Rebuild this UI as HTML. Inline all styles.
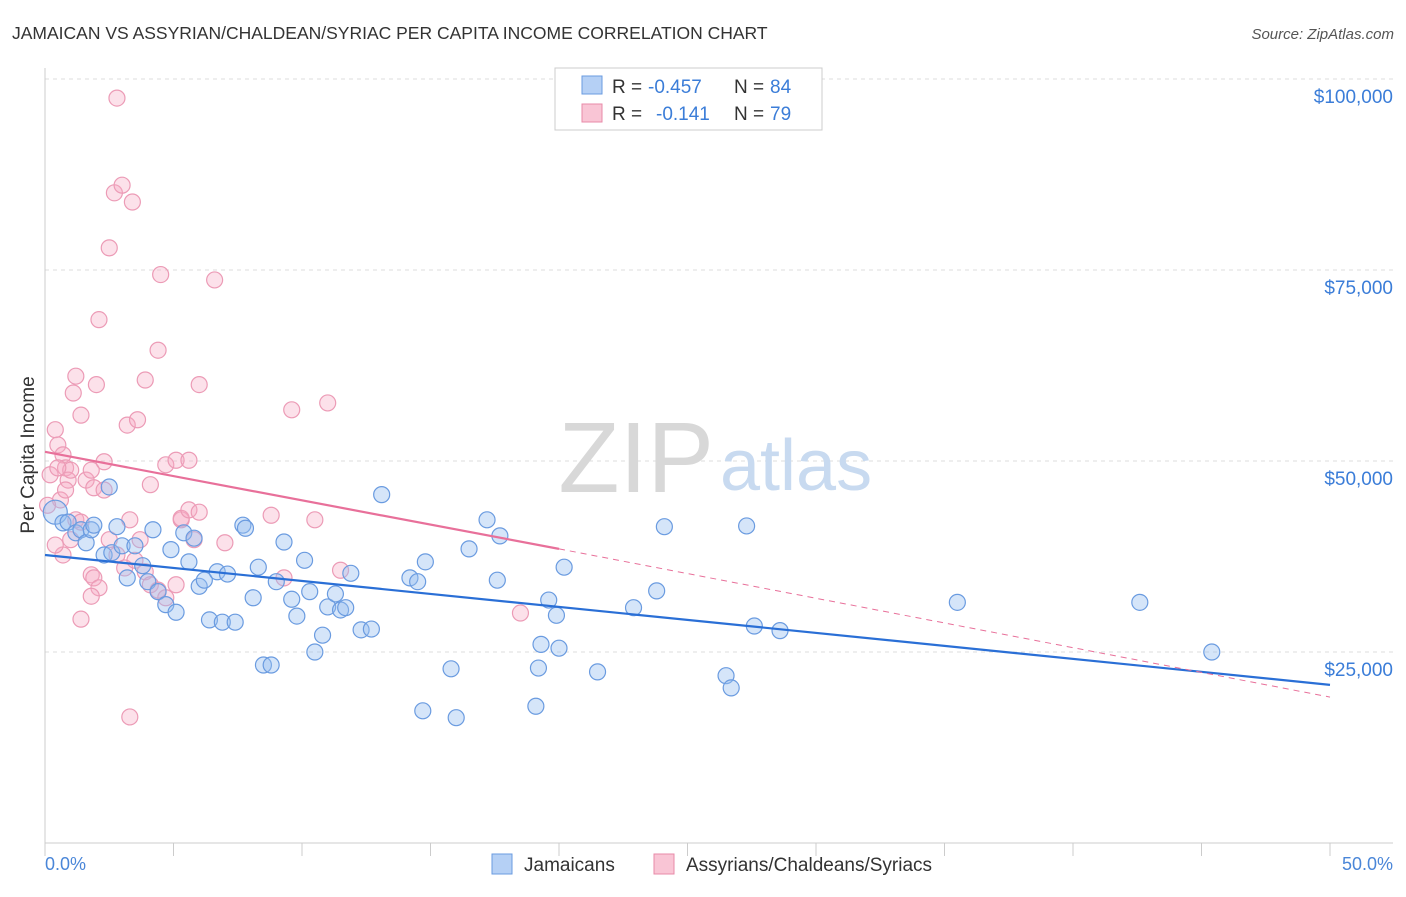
<!DOCTYPE html>
<html><head><meta charset="utf-8"><style>
body{margin:0;background:#fff;font-family:"Liberation Sans",sans-serif}
svg text{font-family:"Liberation Sans",sans-serif}
</style></head><body>
<svg id="chart" width="1406" height="892" viewBox="0 0 1406 892" xmlns="http://www.w3.org/2000/svg">
<text x="12" y="39" font-size="17.5" fill="#333">JAMAICAN VS ASSYRIAN/CHALDEAN/SYRIAC PER CAPITA INCOME CORRELATION CHART</text>
<text x="1394" y="39" font-size="15" fill="#555" font-style="italic" text-anchor="end">Source: ZipAtlas.com</text>
<g id="grid"></g>
<text x="714" y="492" font-size="100" fill="#d8d8d8" text-anchor="end" font-family="Liberation Serif">ZIP</text>
<text x="720" y="490" font-size="72" fill="#c8daf0">atlas</text>
<g id="pts"></g>
<g id="lines"></g>
<text x="34" y="455" font-size="19" fill="#333" text-anchor="middle" transform="rotate(-90 34 455)">Per Capita Income</text>
<text x="45" y="870" font-size="18" fill="#4a86d8">0.0%</text>
<text x="1393" y="870" font-size="18" fill="#4a86d8" text-anchor="end">50.0%</text>
<g>
<rect x="555" y="68" width="267" height="62" fill="#fff" stroke="#ccc"/>
<rect x="582" y="76" width="20" height="18" fill="#b5d0f5" stroke="#6a9be0"/>
<rect x="582" y="104" width="20" height="18" fill="#f9c5d5" stroke="#e88aa8"/>
<text x="612" y="93" font-size="19" fill="#333">R =</text>
<text x="648" y="93" font-size="19" fill="#3b7dd8">-0.457</text>
<text x="734" y="93" font-size="19" fill="#333">N =</text>
<text x="770" y="93" font-size="19" fill="#3b7dd8">84</text>
<text x="612" y="120" font-size="19" fill="#333">R =</text>
<text x="656" y="120" font-size="19" fill="#3b7dd8">-0.141</text>
<text x="734" y="120" font-size="19" fill="#333">N =</text>
<text x="770" y="120" font-size="19" fill="#3b7dd8">79</text>
</g>
<g>
<rect x="492" y="854" width="20" height="20" fill="#b5d0f5" stroke="#6a9be0"/>
<text x="524" y="871" font-size="19" fill="#333">Jamaicans</text>
<rect x="654" y="854" width="20" height="20" fill="#f9c5d5" stroke="#e88aa8"/>
<text x="686" y="871" font-size="19" fill="#333">Assyrians/Chaldeans/Syriacs</text>
</g>
</svg>
<script>
const yTicks=[25000,50000,75000,100000];
const yTickLabels=["$25,000","$50,000","$75,000","$100,000"];
const xTicks=[0,5,10,15,20,25,30,35,40,45,50];
const blueX=[0.4,0.7,0.9,1.2,1.4,1.6,1.8,1.9,2.3,2.5,2.6,2.8,3.0,3.2,3.5,3.8,4.0,4.2,4.4,4.7,4.9,5.1,5.4,5.6,5.8,6.0,6.2,6.4,6.7,6.9,7.1,7.4,7.7,7.8,8.1,8.3,8.5,8.8,9.0,9.3,9.6,9.8,10.1,10.3,10.5,10.8,11.0,11.3,11.5,11.7,11.9,12.3,12.7,13.1,14.2,14.5,14.8,14.7,15.8,16.0,16.5,17.2,17.6,17.7,19.1,19.2,19.3,19.6,19.9,20.0,20.2,21.5,22.9,23.8,24.1,26.5,26.7,27.3,27.6,28.6,35.5,42.6,45.4];
const blueY=[43300,41900,42000,40600,41000,39300,41000,41600,37700,46600,38000,41400,38900,34700,38900,36300,34200,41000,32900,31200,38400,30200,40600,36800,39900,33600,34400,29200,35500,28900,35200,28900,41600,41200,32100,36100,23300,23300,34200,39400,31900,29700,37000,32900,25000,27200,30900,32600,30500,30800,35300,27900,28000,45600,34700,34200,36800,17300,22800,16400,38500,42300,34400,40200,17900,22900,26000,31800,29800,25500,36100,22400,30800,33000,41400,21900,20300,41500,28400,27800,31500,31500,25000];
const pinkX=[0.4,0.5,0.7,0.8,0.9,1.1,1.2,1.0,1.4,1.6,1.8,1.9,2.1,2.0,2.3,2.5,2.7,2.8,3.0,3.2,3.4,3.6,3.9,4.1,4.4,4.5,4.7,5.1,5.3,5.6,6.0,6.6,0.7,1.0,1.2,1.4,1.8,1.9,2.1,2.3,2.5,2.8,3.1,3.3,3.5,3.7,3.9,4.1,4.4,4.7,5.1,5.3,5.6,5.8,6.0,7.0,8.8,9.3,9.6,10.5,11.0,11.5,18.5,3.3,1.4,1.8,0.4,0.6,0.8,0.2,0.5,0.1];
const pinkY=[54100,52100,50800,49100,47500,58900,61100,48800,56000,47500,48800,46500,68500,60000,49900,77900,85100,97500,86100,54700,83900,55400,60600,46900,64500,74400,49500,50100,42300,50100,60000,73700,37700,39700,42300,42000,35100,34700,33400,46200,39700,37700,36000,42300,37000,39700,35500,33800,33100,32100,33800,42500,43600,39700,43300,39300,42900,34700,56700,42300,57600,35700,30100,16500,29300,32300,39000,44900,46200,48200,49100,44200];
const blueLine=[0,37700,50,20700];
const pinkLine=[0,51200,20,38500,50,19100];
const NS="http://www.w3.org/2000/svg";
const X=p=>45+p*25.7, Y=v=>843-v/25000*191;
function mk(tag,at,parent){const e=document.createElementNS(NS,tag);for(const k in at)e.setAttribute(k,at[k]);parent.appendChild(e);return e;}
const grid=document.getElementById('grid');
yTicks.forEach((t,i)=>{
 const l=mk('line',{x1:45,x2:1393,y1:Y(t),y2:Y(t),stroke:'#ddd','stroke-dasharray':'4,4'},grid);
 
 
 const tx=mk('text',{x:1393,y:Y(t)+24,'font-size':19,fill:'#3b7dd8','text-anchor':'end'},grid);
 tx.textContent=yTickLabels[i];
 
 
});
mk('line',{x1:45,x2:45,y1:68,y2:843,stroke:'#ccc'},grid);
mk('line',{x1:45,x2:1393,y1:843,y2:843,stroke:'#ccc'},grid);
xTicks.forEach(t=>{const l=mk('line',{x1:X(t),x2:X(t),y1:843,y2:856,stroke:'#ccc'},grid);
 
 });
const pts=document.getElementById('pts');
pinkX.forEach((x,i)=>{const c=mk('circle',{cx:X(x),cy:Y(pinkY[i]),r:8,fill:'rgba(245,170,195,0.35)',stroke:'#ec9bb6','stroke-width':1.2},pts);
 
 });
blueX.forEach((x,i)=>{const c=mk('circle',{cx:X(x),cy:Y(blueY[i]),r:i==0?12:8,fill:'rgba(150,190,240,0.4)',stroke:'#6a9be0','stroke-width':1.2},pts);
 
 });
const lines=document.getElementById('lines');
let bl=mk('line',{x1:X(blueLine[0]),y1:Y(blueLine[1]),x2:X(blueLine[2]),y2:Y(blueLine[3]),stroke:'#2a6fd6','stroke-width':2.2},lines);


let pl=mk('line',{x1:X(pinkLine[0]),y1:Y(pinkLine[1]),x2:X(pinkLine[2]),y2:Y(pinkLine[3]),stroke:'#e8709a','stroke-width':2.2},lines);


let pd=mk('line',{x1:X(pinkLine[2]),y1:Y(pinkLine[3]),x2:X(pinkLine[4]),y2:Y(pinkLine[5]),stroke:'#e8709a','stroke-width':1,'stroke-dasharray':'6,5'},lines);


</script>
</body></html>
